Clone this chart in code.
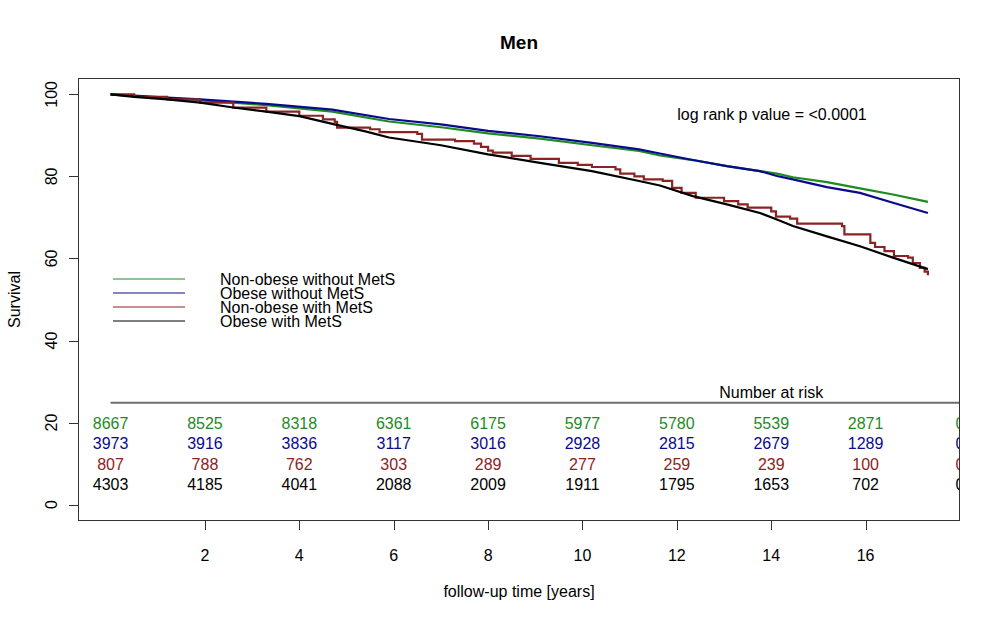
<!DOCTYPE html>
<html lang="en">
  <head>
    <meta charset="UTF-8" />
    <title>Men</title>
    <script src="https://d3js.org/d3.v7.min.js"></script>
    <style>
      body {
        margin: 0;
        background: #fff;
        font-family: 'Liberation Sans', Arial, sans-serif;
      }
      .tick-label,
      .axis-title,
      .note {
        font-size: 16px;
        fill: #000;
      }
      .risk {
        font-size: 16px;
      }
    </style>
  </head>
  <body>
    <div id="chart"></div>
    <script>
      // Groups, colors and number-at-risk tables
      const groups = [
        'Non-obese without MetS',
        'Obese without MetS',
        'Non-obese with MetS',
        'Obese with MetS',
      ];
      const colors = ['#1f8a1f', '#0a0a8c', '#8b2323', '#000000'];

      const riskTimes = [0, 2, 4, 6, 8, 10, 12, 14, 16, 18];
      const riskGreen = [8667, 8525, 8318, 6361, 6175, 5977, 5780, 5539, 2871, 0];
      const riskBlue = [3973, 3916, 3836, 3117, 3016, 2928, 2815, 2679, 1289, 0];
      const riskRed = [807, 788, 762, 303, 289, 277, 259, 239, 100, 0];
      const riskBlack = [4303, 4185, 4041, 2088, 2009, 1911, 1795, 1653, 702, 0];
      const riskRows = [riskGreen, riskBlue, riskRed, riskBlack];
      const riskRowY = [19.8, 14.9, 9.8, 5.0];

      const xTicks = [2, 4, 6, 8, 10, 12, 14, 16];
      const yTicks = [0, 20, 40, 60, 80, 100];

      // Survival curves: [years, survival %]
      const survGreen = [
        [0, 100], [0.5, 99.6], [1.2, 99.1], [1.9, 98.6], [3.3, 97.4],
        [4.7, 95.8], [5.9, 93.4], [7.0, 92.0], [8.0, 90.5], [9.1, 89.2],
        [10.2, 87.6], [11.2, 86.2], [11.64, 85.1], [12.34, 84.0],
        [13.06, 82.5], [13.76, 81.3], [14.12, 80.7], [14.46, 79.8],
        [15.18, 78.6], [15.88, 77.1], [16.58, 75.6], [17.32, 73.8],
      ];
      const survBlue = [
        [0, 100], [0.5, 99.7], [1.2, 99.2], [1.9, 98.8], [3.3, 97.7],
        [4.7, 96.3], [5.9, 94.0], [7.0, 92.7], [8.0, 91.1], [9.1, 89.8],
        [10.2, 88.2], [11.2, 86.6], [11.64, 85.6], [12.34, 84.0],
        [13.06, 82.5], [13.76, 81.3], [14.12, 80.1], [14.46, 79.3],
        [15.18, 77.4], [15.88, 76.0], [16.58, 73.6], [17.32, 71.1],
      ];
      const survBlack = [
        [0, 100], [0.5, 99.4], [1.2, 98.8], [1.9, 98.0], [2.6, 96.8],
        [3.3, 95.8], [4.0, 94.7], [4.7, 92.8], [5.4, 91.0], [5.9, 89.5],
        [7.0, 87.6], [8.0, 85.4], [9.1, 83.3], [10.2, 81.3], [11.2, 78.9],
        [11.64, 77.8], [12.34, 75.2], [13.06, 73.2], [13.76, 71.1],
        [14.12, 69.5], [14.46, 67.9], [15.18, 65.4], [15.88, 63.0],
        [16.58, 60.2], [17.32, 57.4],
      ];
      const survRed = [
        [0, 100], [0.5, 99.4], [1.2, 98.8], [1.9, 98.0], [2.6, 96.8],
        [3.3, 95.8], [4.0, 94.8], [4.5, 93.9], [4.75, 93.3], [4.8, 91.9],
        [5.5, 91.5], [5.7, 90.8], [6.5, 90.4], [6.6, 89.0], [7.3, 88.6],
        [7.7, 88.0], [7.85, 87.2], [8.0, 86.3], [8.1, 85.8], [8.5, 85.0],
        [8.9, 84.3], [9.5, 83.3], [9.9, 82.8], [10.2, 82.3], [10.7, 81.7],
        [10.8, 80.7], [11.1, 80.0], [11.3, 79.3], [11.7, 78.9], [11.9, 77.2],
        [12.1, 76.0], [12.4, 74.8], [13.0, 74.0], [13.3, 73.2], [13.5, 72.4],
        [14.0, 71.5], [14.1, 70.2], [14.4, 69.7], [14.55, 68.5], [15.5, 67.9],
        [15.55, 65.9], [16.1, 63.8], [16.2, 62.8], [16.4, 61.8], [16.6, 60.6],
        [16.9, 60.2], [17.0, 58.9], [17.15, 57.7], [17.25, 56.8], [17.32, 55.9],
      ];
      const curves = [
        { data: survGreen, color: colors[0], step: false },
        { data: survBlue, color: colors[1], step: false },
        { data: survRed, color: colors[2], step: true },
        { data: survBlack, color: colors[3], step: false },
      ];

      const width = 1000;
      const height = 620;
      const plot = { left: 78, right: 960, top: 78, bottom: 521 };

      const svg = d3
        .select('#chart')
        .append('svg')
        .attr('width', width)
        .attr('height', height);

      const x = d3
        .scaleLinear()
        .domain([-0.69, 18.0])
        .range([plot.left, plot.right]);
      const y = d3
        .scaleLinear()
        .domain([-4, 104])
        .range([plot.bottom, plot.top]);

      svg
        .append('clipPath')
        .attr('id', 'plot-clip')
        .append('rect')
        .attr('x', plot.left)
        .attr('y', plot.top)
        .attr('width', plot.right - plot.left)
        .attr('height', plot.bottom - plot.top);

      const g = svg.append('g').attr('clip-path', 'url(#plot-clip)');

      // Survival curves
      curves.forEach((c) => {
        const line = d3
          .line()
          .x((d) => x(d[0]))
          .y((d) => y(d[1]))
          .curve(c.step ? d3.curveStepAfter : d3.curveLinear);
        g.append('path')
          .datum(c.data)
          .attr('fill', 'none')
          .attr('stroke', c.color)
          .attr('stroke-width', 2.2)
          .attr('d', line);
      });

      // Number at risk table
      g.append('line')
        .attr('x1', x(0))
        .attr('x2', x(19))
        .attr('y1', y(24.8))
        .attr('y2', y(24.8))
        .attr('stroke', '#6e6e6e')
        .attr('stroke-width', 2);

      g.append('text')
        .attr('class', 'note')
        .attr('x', x(14))
        .attr('y', y(27.4))
        .attr('dy', '0.35em')
        .attr('text-anchor', 'middle')
        .text('Number at risk');

      riskRows.forEach((row, i) => {
        g.selectAll(null)
          .data(row)
          .join('text')
          .attr('class', 'risk')
          .attr('x', (d, j) => x(riskTimes[j]))
          .attr('y', y(riskRowY[i]))
          .attr('dy', '0.35em')
          .attr('text-anchor', 'middle')
          .attr('fill', colors[i])
          .text((d) => d);
      });

      // Box
      svg
        .append('rect')
        .attr('x', plot.left + 0.5)
        .attr('y', plot.top + 0.5)
        .attr('width', plot.right - plot.left - 1)
        .attr('height', plot.bottom - plot.top - 1)
        .attr('fill', 'none')
        .attr('stroke', '#333')
        .attr('stroke-width', 1);

      // X axis ticks
      const xAxis = svg.append('g');
      xAxis
        .selectAll('line')
        .data(xTicks)
        .join('line')
        .attr('x1', (d) => Math.round(x(d)) + 0.5)
        .attr('x2', (d) => Math.round(x(d)) + 0.5)
        .attr('y1', plot.bottom)
        .attr('y2', plot.bottom + 9)
        .attr('stroke', '#333');
      xAxis
        .selectAll('text')
        .data(xTicks)
        .join('text')
        .attr('class', 'tick-label')
        .attr('x', (d) => x(d))
        .attr('y', 555)
        .attr('dy', '0.35em')
        .attr('text-anchor', 'middle')
        .text((d) => d);

      // Y axis ticks
      const yAxis = svg.append('g');
      yAxis
        .selectAll('line')
        .data(yTicks)
        .join('line')
        .attr('x1', plot.left - 9)
        .attr('x2', plot.left)
        .attr('y1', (d) => Math.round(y(d)) + 0.5)
        .attr('y2', (d) => Math.round(y(d)) + 0.5)
        .attr('stroke', '#333');
      yAxis
        .selectAll('text')
        .data(yTicks)
        .join('text')
        .attr('class', 'tick-label')
        .attr('transform', (d) => `translate(51,${y(d)}) rotate(-90)`)
        .attr('dy', '0.35em')
        .attr('text-anchor', 'middle')
        .text((d) => d);

      // Titles
      svg
        .append('text')
        .attr('x', (plot.left + plot.right) / 2)
        .attr('y', 42)
        .attr('dy', '0.35em')
        .attr('text-anchor', 'middle')
        .attr('font-weight', 'bold')
        .attr('font-size', 19)
        .text('Men');

      svg
        .append('text')
        .attr('class', 'axis-title')
        .attr('x', (plot.left + plot.right) / 2)
        .attr('y', 591)
        .attr('dy', '0.35em')
        .attr('text-anchor', 'middle')
        .text('follow-up time [years]');

      svg
        .append('text')
        .attr('class', 'axis-title')
        .attr('transform', `translate(14,${(plot.top + plot.bottom) / 2}) rotate(-90)`)
        .attr('dy', '0.35em')
        .attr('text-anchor', 'middle')
        .text('Survival');

      svg
        .append('text')
        .attr('class', 'note')
        .attr('x', 772)
        .attr('y', 114)
        .attr('dy', '0.35em')
        .attr('text-anchor', 'middle')
        .text('log rank p value = <0.0001');

      // Legend
      const legend = svg.append('g').attr('transform', 'translate(113,279)');
      groups.forEach((name, i) => {
        legend
          .append('line')
          .attr('x1', 0)
          .attr('x2', 72)
          .attr('y1', i * 14)
          .attr('y2', i * 14)
          .attr('stroke', colors[i])
          .attr('stroke-width', 1.2);
        legend
          .append('text')
          .attr('class', 'note')
          .attr('x', 107)
          .attr('y', i * 14)
          .attr('dy', '0.35em')
          .text(name);
      });
    </script>
  </body>
</html>
